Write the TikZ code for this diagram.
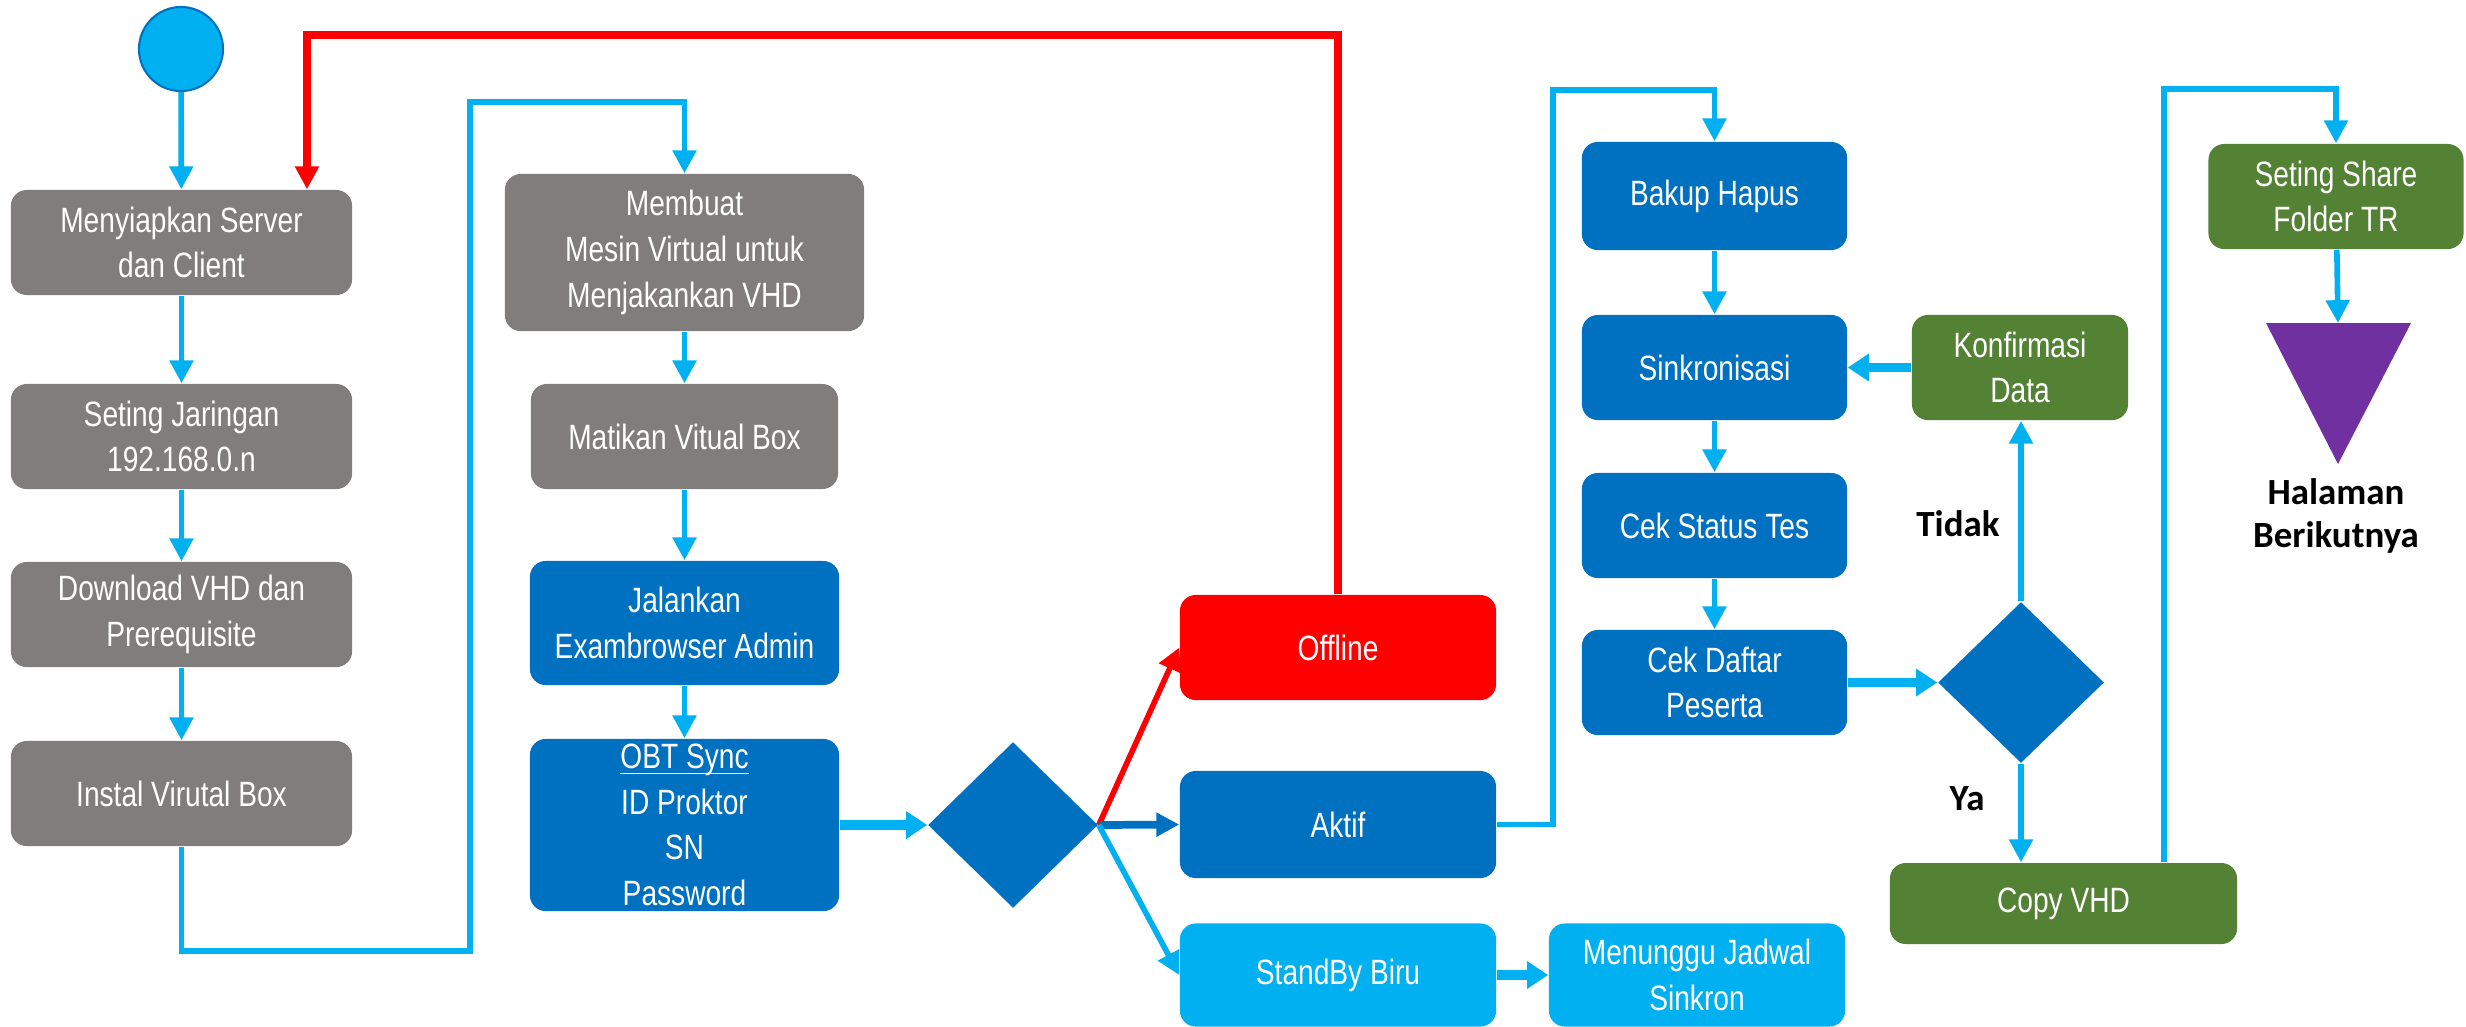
\documentclass[tikz,border=0pt]{standalone}
\usepackage{fontspec}
\setmainfont{Liberation Sans}[FakeStretch=0.8]
\newfontfamily\lblfont{Carlito}
\usetikzlibrary{arrows.meta,shapes.geometric}
\definecolor{boxgray}{RGB}{128,125,124}
\definecolor{darkblue}{RGB}{0,112,192}
\definecolor{lightblue}{RGB}{0,176,240}
\definecolor{boxgreen}{RGB}{84,130,53}
\definecolor{endpurple}{RGB}{112,48,160}
\definecolor{offred}{RGB}{255,0,0}
\begin{document}
\begin{tikzpicture}[x=0.01cm,y=-0.01cm,
  >={Triangle[length=6.5pt,width=6.5pt]},
  box/.style={rounded corners=4.5pt,text=white,align=center,inner sep=0pt,
    minimum height=1.05cm,font=\fontsize{10}{13}\selectfont},
  graybox/.style={box,fill=boxgray,minimum width=3.41cm},
  bluebox/.style={box,fill=darkblue},
  skybox/.style={box,fill=lightblue},
  greenbox/.style={box,fill=boxgreen},
  redbox/.style={box,fill=offred},
  choice/.style={diamond,fill=darkblue,inner sep=0pt},
  flow/.style={->,draw=lightblue,line width=1.6pt},
  fatflow/.style={-{Triangle[length=6pt,width=7.5pt]},draw=lightblue,line width=2.6pt},
  lbl/.style={font=\lblfont\bfseries\fontsize{10.5}{12}\selectfont,align=center}]
\useasboundingbox (0,0) rectangle (2466,1026);

% first column
\node[circle,fill=lightblue,draw=darkblue,line width=0.6pt,minimum width=0.84cm,
  minimum height=0.81cm,inner sep=0pt] (start) at (181,49) {};
\node[graybox] (prep) at (181.5,242.5) {Menyiapkan Server\\dan Client};
\node[graybox] (net) at (181.5,436.5) {Seting Jaringan\\192.168.0.n};
\node[graybox] (dl) at (181.5,614.5) {Download VHD dan\\Prerequisite};
\node[graybox] (vbox) at (181.5,793.5) {Instal Virutal Box};

% second column
\node[graybox,minimum width=3.59cm,minimum height=1.57cm] (vm) at (684.5,252.5)
  {Membuat\\Mesin Virtual untuk\\Menjakankan VHD};
\node[graybox,minimum width=3.07cm] (stop) at (684.5,436.5) {Matikan Vitual Box};
\node[bluebox,minimum width=3.09cm,minimum height=1.24cm] (run) at (684.5,623)
  {Jalankan\\Exambrowser Admin};
\node[bluebox,minimum width=3.09cm,minimum height=1.72cm] (sync) at (684.5,825)
  {\underline{\raisebox{0pt}[\height][0pt]{OBT Sync}}\\ID Proktor\\SN\\Password};
\node[choice,minimum width=1.70cm,minimum height=1.66cm] (dec1) at (1013,825) {};

% status
\node[redbox,minimum width=3.16cm] (offl) at (1338,647.5) {Offline};
\node[bluebox,minimum width=3.16cm,minimum height=1.07cm] (aktif) at (1338,824.5) {Aktif};
\node[skybox,minimum width=3.16cm,minimum height=1.03cm] (standby) at (1338,975) {StandBy Biru};
\node[skybox,minimum width=2.96cm,minimum height=1.03cm] (wait) at (1697,975) {Menunggu Jadwal\\Sinkron};

% third column
\node[bluebox,minimum width=2.65cm,minimum height=1.08cm] (bak) at (1714.5,196) {Bakup Hapus};
\node[bluebox,minimum width=2.65cm] (sinc) at (1714.5,367.5) {Sinkronisasi};
\node[bluebox,minimum width=2.65cm] (stat) at (1714.5,525.5) {Cek Status Tes};
\node[bluebox,minimum width=2.65cm] (daftar) at (1714.5,682.5) {Cek Daftar\\Peserta};
\node[choice,minimum width=1.66cm,minimum height=1.61cm] (dec2) at (2021,682.5) {};
\node[greenbox,minimum width=2.16cm] (konf) at (2020,367.5) {Konfirmasi\\Data};
\node[greenbox,minimum width=3.47cm,minimum height=0.81cm] (copy) at (2063.5,903.5) {Copy VHD};
\node[lbl] (tidak) at (1958,524) {Tidak};
\node[lbl] (ya) at (1967,799) {Ya};

% last column
\node[greenbox,minimum width=2.55cm] (share) at (2336,196.5) {Seting Share\\Folder TR};
\fill[endpurple] (2266,323) -- (2411,323) -- (2338,464) -- cycle;
\coordinate (endtop) at (2338,323);
\node[lbl] (next) at (2336,516) {Halaman\\Berikutnya};

% connectors
\coordinate (rtop) at (307,35);
\coordinate (lp1) at (470,951);
\coordinate (lp2) at (470,102);
\coordinate (lp3) at (1553,90);
\coordinate (lp4) at (2164,89);

\draw[flow] (start) -- (prep);
\draw[flow] (prep) -- (net);
\draw[flow] (net) -- (dl);
\draw[flow] (dl) -- (vbox);
\draw[flow] (vbox.south) |- (lp1) -- (lp2) -| (vm.north);
\draw[flow] (vm) -- (stop);
\draw[flow] (stop) -- (run);
\draw[flow] (run) -- (sync);
\draw[fatflow] (sync) -- (dec1);
\draw[->,draw=offred,line width=1.6pt] (dec1.east) -- (offl.west);
\draw[->,draw=darkblue,line width=2.2pt] (dec1.east) -- (aktif.west);
\draw[flow] (dec1.east) -- (standby.west);
\draw[fatflow] (standby) -- (wait);
\draw[->,draw=offred,line width=2pt] (offl.north) |- (rtop) -- (rtop |- prep.north);
\draw[flow] (aktif.east) -| (lp3) -| (bak.north);
\draw[flow] (bak) -- (sinc);
\draw[flow] (sinc) -- (stat);
\draw[flow] (stat) -- (daftar);
\draw[fatflow] (daftar) -- (dec2);
\draw[flow] (dec2.north) -- (dec2.north |- konf.south);
\draw[fatflow] (konf) -- (sinc);
\draw[flow] (dec2.south) -- (dec2.south |- copy.north);
\draw[flow] (lp4 |- copy.north) -- (lp4) -| (share.north);
\draw[flow] (share) -- (endtop);
\end{tikzpicture}
\end{document}
